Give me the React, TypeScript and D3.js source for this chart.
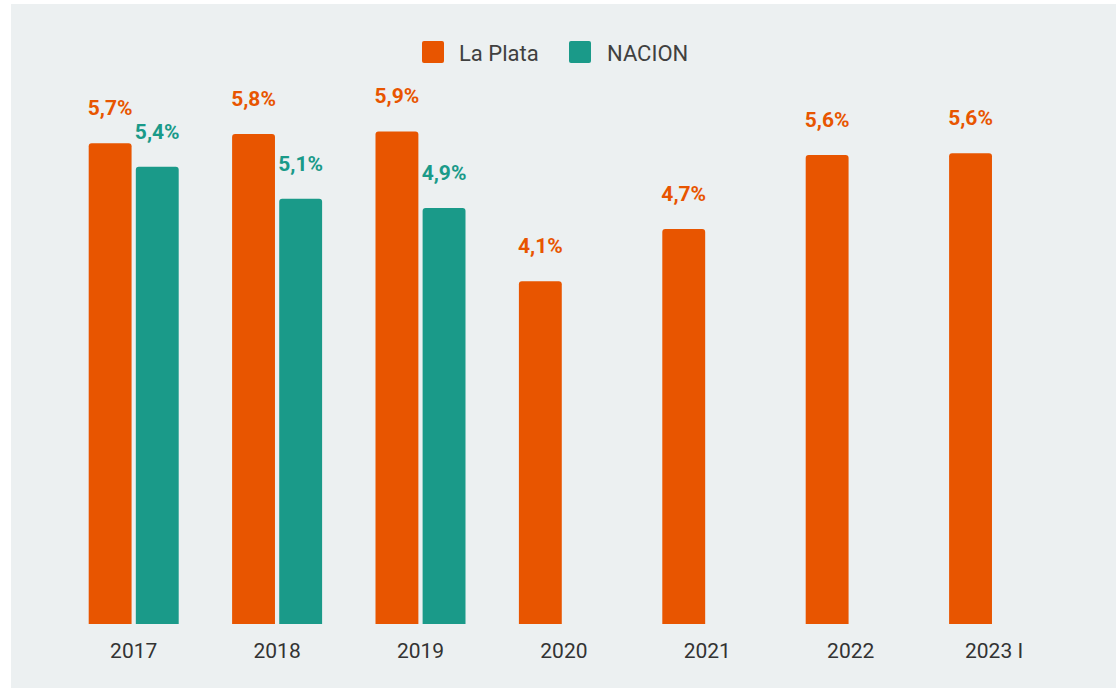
import React from "react";
import * as d3 from "d3";

const categories = ["2017", "2018", "2019", "2020", "2021", "2022", "2023 I"];
const seriesNames = ["La Plata", "NACION"];
const laPlata = [5.71, 5.82, 5.85, 4.07, 4.69, 5.57, 5.59];
const nacion: (number | null)[] = [5.43, 5.05, 4.94, null, null, null, null];
const laPlataLabels = ["5,7%", "5,8%", "5,9%", "4,1%", "4,7%", "5,6%", "5,6%"];
const nacionLabels = ["5,4%", "5,1%", "4,9%", "", "", "", ""];
const seriesColors = ["#E85500", "#1A9A89"];

const W = 1116;
const H = 688;
const BG = "#ECF0F1";
const FONT = "Roboto, 'Noto Sans', sans-serif";

function topRounded(x: number, y: number, w: number, h: number, r: number) {
  const rr = Math.min(r, h / 2, w / 2);
  return `M${x},${y + h}V${y + rr}Q${x},${y} ${x + rr},${y}H${x + w - rr}Q${x + w},${y} ${x + w},${y + rr}V${y + h}Z`;
}

export default function App() {
  const x = d3.scaleBand<string>().domain(categories).range([62, 62 + 7 * 143.4]).padding(0);
  const xi = d3.scaleBand<string>().domain(seriesNames).range([-45, 45]).paddingInner(0.09);
  const y = d3.scaleLinear().domain([0, 7]).range([624, 624 - 7 * 84.2]);

  const data = [laPlata, nacion];
  const labels = [laPlataLabels, nacionLabels];

  return (
    <svg width={W} height={H} style={{ position: "absolute", left: 0, top: 0 }} fontFamily={FONT}>
      <rect x={0} y={0} width={W} height={H} fill="#fff" />
      <rect x={11} y={4} width={W - 11} height={H - 4} fill={BG} />
      {/* legend */}
      <g>
        <rect x={422} y={41} width={22} height={22} rx={2} fill={seriesColors[0]} />
        <text x={459} y={61} fontSize={22} fill="#404040">{seriesNames[0]}</text>
        <rect x={569} y={41} width={22} height={22} rx={2} fill={seriesColors[1]} />
        <text x={607} y={61} fontSize={22} fill="#404040">{seriesNames[1]}</text>
      </g>
      {data.map((vals, si) =>
        categories.map((c, ci) => {
          const v = vals[ci];
          if (v == null) return null;
          const cx = (x(c) as number) + x.bandwidth() / 2;
          const bx = cx + (xi(seriesNames[si]) as number);
          const bw = xi.bandwidth();
          const top = y(v);
          return (
            <g key={`${si}-${ci}`}>
              <path d={topRounded(bx, top, bw, y(0) - top, 3)} fill={seriesColors[si]} />
              <text
                x={bx + bw / 2}
                y={top - 28}
                textAnchor="middle"
                fontSize={21}
                fontWeight="bold"
                fill={seriesColors[si]}
                stroke={BG}
                strokeWidth={2}
                paintOrder="stroke"
              >
                {labels[si][ci]}
              </text>
            </g>
          );
        })
      )}
      {categories.map((c) => (
        <text
          key={c}
          x={(x(c) as number) + x.bandwidth() / 2}
          y={658}
          textAnchor="middle"
          fontSize={21}
          fill="#333"
        >
          {c}
        </text>
      ))}
    </svg>
  );
}
